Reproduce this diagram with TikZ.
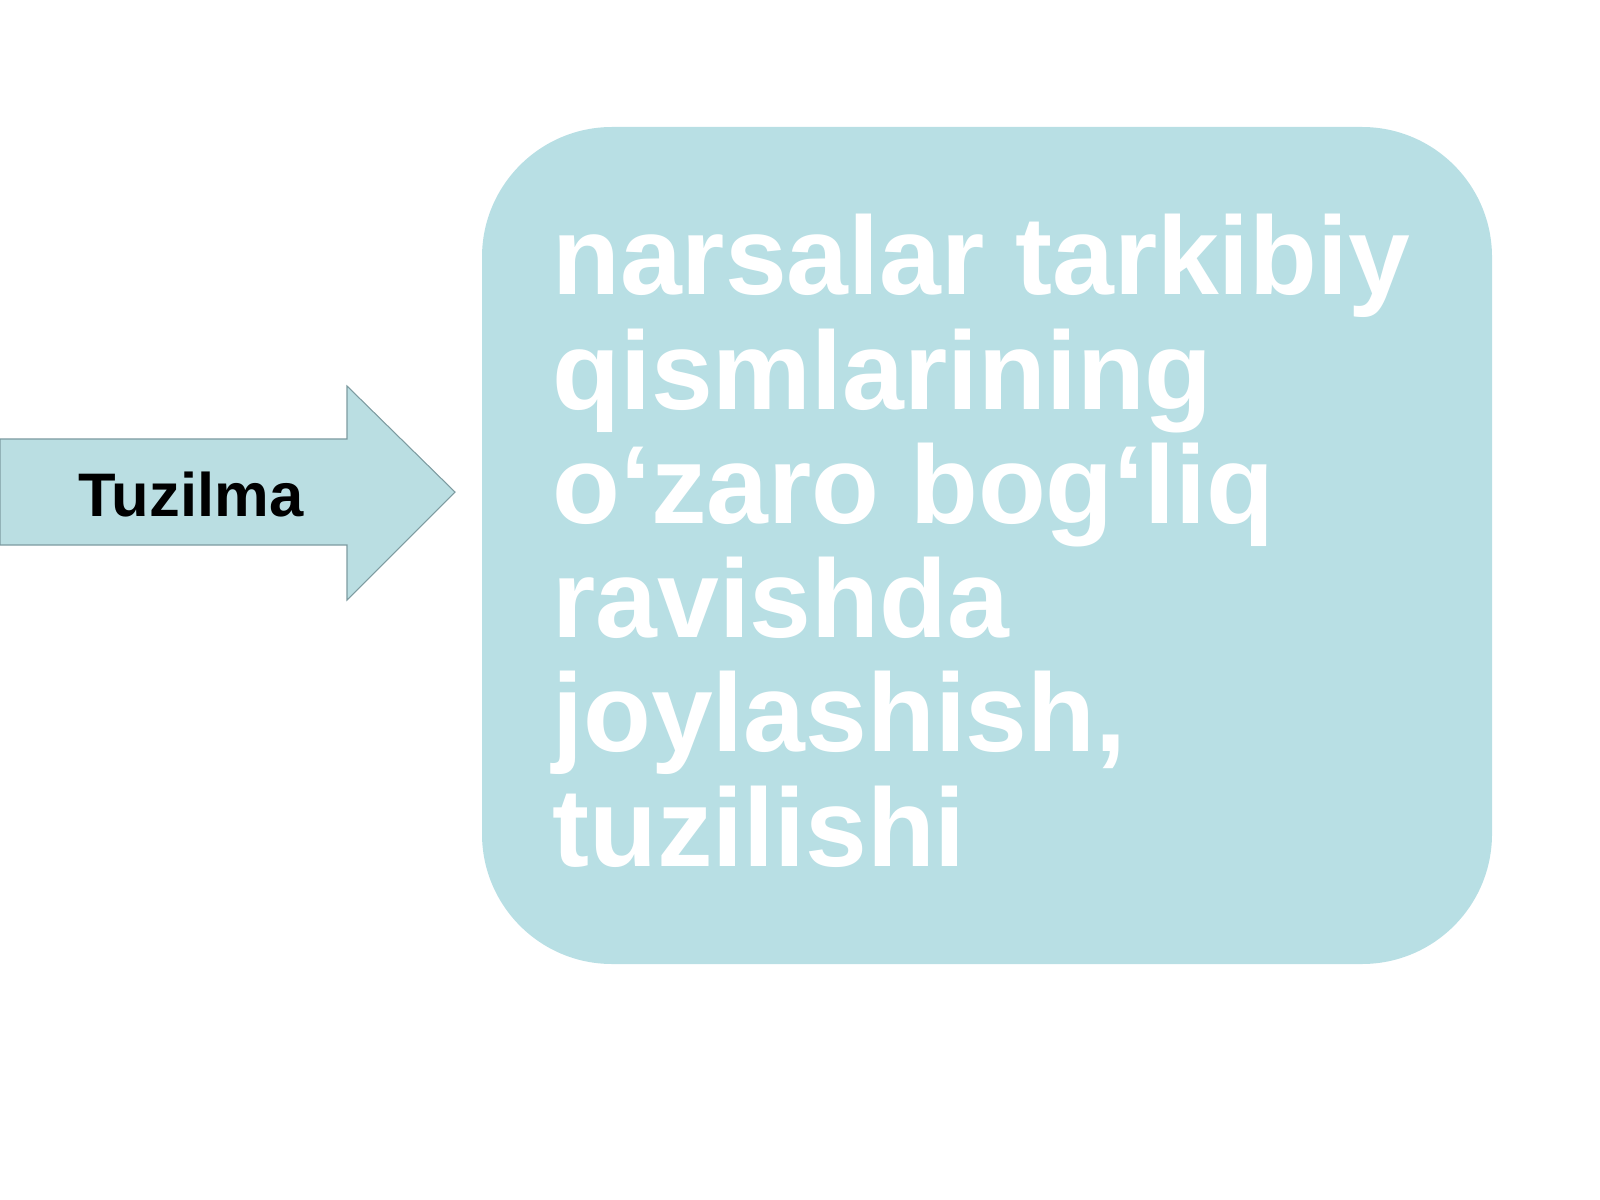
\documentclass[tikz,border=0pt]{standalone}
\usepackage{fontspec}
\setmainfont{Liberation Sans}
\definecolor{boxblue}{RGB}{184,223,228}
\definecolor{arrowblue}{RGB}{186,222,226}
\definecolor{arrowedge}{RGB}{125,155,160}
\tikzset{
  bigbox/.style={fill=boxblue, draw=none, rounded corners=2.6cm},
  headarrow/.style={fill=arrowblue, draw=arrowedge, line width=0.6pt},
  boxtext/.style={text=white, align=left, inner sep=0pt, anchor=base west,
    font=\bfseries\fontsize{63.2}{65}\selectfont},
  arrowtext/.style={text=black, inner sep=0pt, font=\bfseries\fontsize{35}{40}\selectfont}
}
\begin{document}
\begin{tikzpicture}[x=0.2mm, y=-0.2mm]
    \useasboundingbox (0,0) rectangle (1600,1200);

    % arrow on the left
    \draw[headarrow] (0,439) -- (347,439) -- (347,386) -- (455,492)
        -- (347,600) -- (347,545) -- (0,545) -- cycle;
    \node (tuzilma) [arrowtext] at (191,495) {Tuzilma};

    % rounded box with the definition (base = last line)
    \fill[bigbox] (482,127) rectangle (1492,964);
    \node (ta) [boxtext] at (552,866) {narsalar tarkibiy\\
        qismlarining\\
        o‘zaro bog‘liq\\
        ravishda\\
        joylashish,\\
        tuzilishi};

\end{tikzpicture}
\end{document}
